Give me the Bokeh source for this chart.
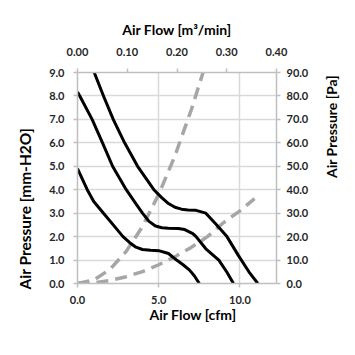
import math
from bokeh.plotting import figure
from bokeh.models import Range1d, LinearAxis, Title, SingleIntervalTicker, NumeralTickFormatter
from bokeh.embed import file_html
from bokeh.resources import INLINE

# Fan curves: air flow [cfm] vs static pressure [mm-H2O]
low_x = [0.0, 0.3, 0.6, 1.0, 1.6, 2.2, 2.8, 3.2, 3.6, 4.0, 4.5, 5.0, 5.6, 6.1, 6.5, 6.9, 7.2, 7.5]
low_y = [4.9, 4.45, 4.0, 3.5, 3.0, 2.5, 2.0, 1.75, 1.55, 1.45, 1.42, 1.40, 1.28, 1.0, 0.8, 0.57, 0.32, 0.0]

mid_x = [0.0, 0.14, 0.9, 1.54, 2.16, 3.0, 3.6, 4.0, 4.4, 4.8, 5.2, 5.6, 6.2, 6.6, 7.1, 7.3, 7.9, 8.7, 9.2, 9.6]
mid_y = [8.17, 8.0, 7.0, 6.0, 5.0, 4.0, 3.4, 3.0, 2.65, 2.45, 2.38, 2.36, 2.35, 2.3, 2.13, 2.0, 1.48, 1.0, 0.48, 0.0]

high_x = [0.9, 1.6, 2.2, 2.9, 3.7, 4.7, 5.2, 5.6, 6.0, 6.4, 6.8, 7.3, 7.9, 8.5, 9.2, 9.9, 10.6, 11.1]
high_y = [9.23, 8.0, 7.0, 6.0, 5.0, 4.0, 3.65, 3.41, 3.25, 3.17, 3.14, 3.12, 3.0, 2.55, 2.0, 1.2, 0.45, 0.0]

# System impedance curves
steep_x = [0.0, 1.0, 2.0, 3.0, 4.0, 5.0, 6.0, 7.0, 8.0]
steep_y = [0.0, 0.15, 0.6, 1.37, 2.43, 3.8, 5.45, 7.4, 9.6]

shallow_x = [0.0, 1.0, 2.0, 3.0, 4.0, 5.0, 6.0, 7.0, 8.0, 9.0, 10.0, 10.9]
shallow_y = [0.0, 0.03, 0.13, 0.29, 0.51, 0.8, 1.14, 1.54, 2.0, 2.6, 3.1, 3.62]

FONT = "Lato"

p = figure(width=355, height=355, output_backend="svg", toolbar_location=None,
           x_range=Range1d(0, 12.25), y_range=Range1d(0, 9.0),
           min_border_left=72, min_border_right=79, min_border_top=72, min_border_bottom=72,
           outline_line_color=None, background_fill_color="white", border_fill_color="white")

p.extra_x_ranges = {"m3": Range1d(0, 0.40)}
p.extra_y_ranges = {"pa": Range1d(0, 90)}

def style_axis(ax, fmt):
    ax.axis_line_color = "#bfbfbf"
    ax.axis_line_width = 1.5
    ax.major_tick_line_color = "#bfbfbf"
    ax.major_tick_line_width = 1.5
    ax.major_tick_in = 0
    ax.major_tick_out = 4
    ax.minor_tick_line_color = None
    ax.major_label_text_font = FONT
    ax.major_label_text_font_style = "bold"
    ax.major_label_text_font_size = "11px"
    ax.major_label_text_color = "#262626"
    ax.formatter = NumeralTickFormatter(format=fmt)
    ax.axis_label_text_font = FONT
    ax.axis_label_text_font_style = "bold"
    ax.axis_label_text_font_size = "14px"
    ax.axis_label_text_color = "black"

xb = p.xaxis[0]
xb.ticker = SingleIntervalTicker(interval=5)
style_axis(xb, "0.0")
xb.major_label_standoff = 8

yl = p.yaxis[0]
yl.ticker = SingleIntervalTicker(interval=1)
style_axis(yl, "0.0")
yl.major_label_standoff = 9

xt = LinearAxis(x_range_name="m3", ticker=SingleIntervalTicker(interval=0.1))
style_axis(xt, "0.00")
xt.major_label_standoff = 13
xt.axis_label = "Air Flow [m³/min]"
xt.axis_label_standoff = 7
p.add_layout(xt, "above")

yr = LinearAxis(y_range_name="pa", ticker=SingleIntervalTicker(interval=10))
style_axis(yr, "0.0")
yr.major_label_standoff = 6
yr.axis_label = "Air Pressure [Pa]"
yr.axis_label_standoff = 20
yr.axis_label_orientation = math.pi / 2
p.add_layout(yr, "right")

p.xgrid.grid_line_color = "#d9d9d9"
p.xgrid.grid_line_width = 1.5
p.ygrid.grid_line_color = "#d9d9d9"
p.ygrid.grid_line_width = 1.5

dash_kw = dict(line_color="#a6a6a6", line_width=3.5, line_dash="12 7")
p.line(steep_x, steep_y, **dash_kw)
p.line(shallow_x, shallow_y, **dash_kw)

for xs, ys in [(low_x, low_y), (mid_x, mid_y), (high_x, high_y)]:
    p.line(xs, ys, line_color="black", line_width=3, line_join="round")

title_kw = dict(text_font=FONT, text_font_style="bold", text_color="black")
p.add_layout(Title(text="Air Flow [cfm]", align="left", offset=72, standoff=-6,
                   text_font_size="14px", **title_kw), "below")
p.add_layout(Title(text="Air Pressure [mm-H2O]", align="left", offset=-6, standoff=26,
                   text_font_size="15.5px", **title_kw), "left")

open("out.html", "w").write(file_html(p, INLINE))
